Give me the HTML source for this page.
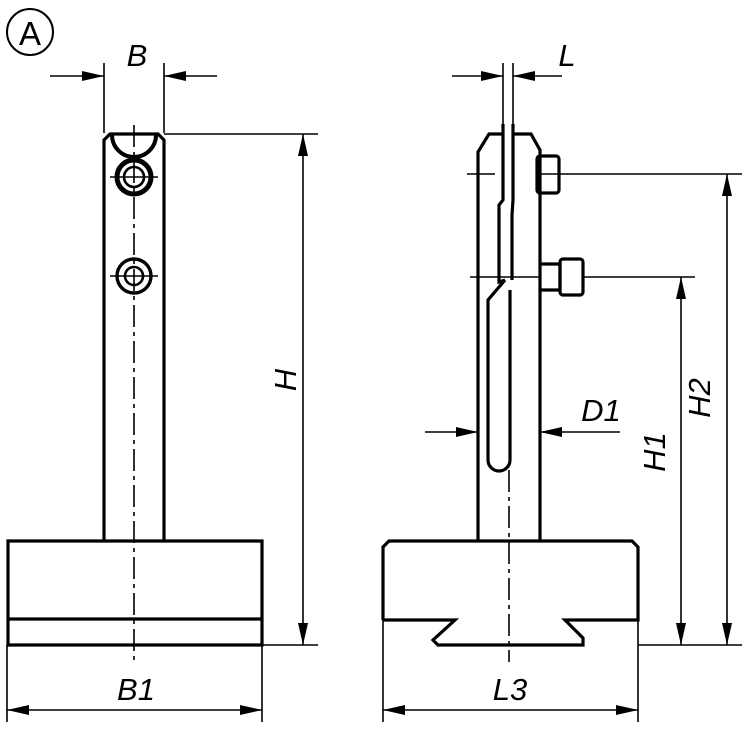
<!DOCTYPE html>
<html><head><meta charset="utf-8"><style>html,body{margin:0;padding:0;background:#fff}svg{display:block}
text{font-family:"Liberation Sans",sans-serif;font-style:italic;font-size:31px;fill:#000}</style></head>
<body>
<svg width="750" height="729" viewBox="0 0 750 729" xmlns="http://www.w3.org/2000/svg">
<defs>
<marker id="a" viewBox="0 0 22 10" refX="22" refY="5" markerWidth="22" markerHeight="10" markerUnits="userSpaceOnUse" orient="auto"><path d="M0,0L22,5L0,10z" fill="#000"/></marker>
<marker id="b" viewBox="0 0 22 10" refX="0" refY="5" markerWidth="22" markerHeight="10" markerUnits="userSpaceOnUse" orient="auto"><path d="M22,0L0,5L22,10z" fill="#000"/></marker>
</defs>
<circle cx="30" cy="32" r="23" fill="none" stroke="#000" stroke-width="2"/>
<text x="30" y="45" text-anchor="middle" style="font-style:normal;font-size:33px">A</text>

<!-- LEFT VIEW -->
<g fill="none" stroke="#000" stroke-width="1.6">
<line x1="104" y1="63" x2="104" y2="133"/><line x1="164" y1="63" x2="164" y2="133"/>
<line x1="50" y1="76" x2="104" y2="76" marker-end="url(#a)"/>
<line x1="217" y1="76" x2="164" y2="76" marker-end="url(#a)"/>
<line x1="164" y1="134" x2="318" y2="134"/><line x1="262" y1="645" x2="318" y2="645"/>
<line x1="303" y1="134" x2="303" y2="645" marker-start="url(#b)" marker-end="url(#a)"/>
<line x1="7" y1="645" x2="7" y2="722"/><line x1="262" y1="645" x2="262" y2="722"/>
<line x1="7" y1="710" x2="262" y2="710" marker-start="url(#b)" marker-end="url(#a)"/>
<line x1="134" y1="125" x2="134" y2="662" stroke-dasharray="22,5,4,5"/>
<line x1="110" y1="177" x2="158" y2="177"/><line x1="110" y1="276" x2="158" y2="276"/>
</g>
<g fill="none" stroke="#000" stroke-width="3.2">
<path d="M104,541V140L110,134H158L164,140V541"/>
<path d="M112,135A22,22 0 0 0 156,135" stroke-width="4"/>
<circle cx="134" cy="177" r="17" stroke-width="5"/>
<circle cx="134" cy="177" r="10" stroke-width="2.6"/>
<circle cx="134" cy="276" r="17" stroke-width="3.4"/>
<circle cx="134" cy="276" r="9" stroke-width="2.6"/>
<path d="M8,541H262V645H8Z"/>
<line x1="8" y1="619" x2="262" y2="619"/>
</g>
<text x="137" y="66" text-anchor="middle">B</text>
<text x="136" y="700" text-anchor="middle">B1</text>
<text transform="translate(296,380) rotate(-90)" text-anchor="middle">H</text>

<!-- RIGHT VIEW -->
<g fill="none" stroke="#000" stroke-width="1.6">
<line x1="503" y1="63" x2="503" y2="133"/><line x1="513" y1="63" x2="513" y2="133"/>
<line x1="452" y1="76" x2="503" y2="76" marker-end="url(#a)"/>
<line x1="562" y1="76" x2="513" y2="76" marker-end="url(#a)"/>
<line x1="559" y1="174" x2="742" y2="174"/><line x1="583" y1="277" x2="695" y2="277"/>
<line x1="638" y1="645" x2="742" y2="645"/>
<line x1="467" y1="174" x2="495" y2="174"/><line x1="470" y1="277" x2="540" y2="277"/>
<line x1="727" y1="174" x2="727" y2="645" marker-start="url(#b)" marker-end="url(#a)"/>
<line x1="681" y1="277" x2="681" y2="645" marker-start="url(#b)" marker-end="url(#a)"/>
<line x1="425" y1="432" x2="478" y2="432" marker-end="url(#a)"/>
<line x1="620" y1="432" x2="540" y2="432" marker-end="url(#a)"/>
<line x1="383" y1="620" x2="383" y2="722"/><line x1="638" y1="620" x2="638" y2="722"/>
<line x1="383" y1="710" x2="638" y2="710" marker-start="url(#b)" marker-end="url(#a)"/>
<line x1="509" y1="470" x2="509" y2="662" stroke-dasharray="22,5,4,5"/>
</g>
<g fill="none" stroke="#000" stroke-width="3.2">
<path d="M478,541V152L489,134H503"/>
<path d="M513,134H531L540,150V541"/>
<path d="M503,124V200L499,205V282L505,280"/>
<path d="M513,124V200L512,215V280"/>
<path d="M505,280L488,300V460A11,11 0 0 0 510,460V290"/>
<rect x="537" y="156" width="22" height="37" rx="3"/>
<line x1="537" y1="174" x2="559" y2="174" stroke-width="1.6"/>
<path d="M540,264H560V290H540"/>
<rect x="560" y="259" width="23" height="36" rx="3"/>
<path d="M383,620V547L389,541H632L638,547V620H565L583,638V645H438L433,640L455,620H383"/>
</g>
<text x="567" y="66" text-anchor="middle">L</text>
<text x="601" y="421" text-anchor="middle">D1</text>
<text x="510" y="700" text-anchor="middle">L3</text>
<text transform="translate(665,452) rotate(-90)" text-anchor="middle">H1</text>
<text transform="translate(710,398) rotate(-90)" text-anchor="middle">H2</text>
</svg>
</body></html>
